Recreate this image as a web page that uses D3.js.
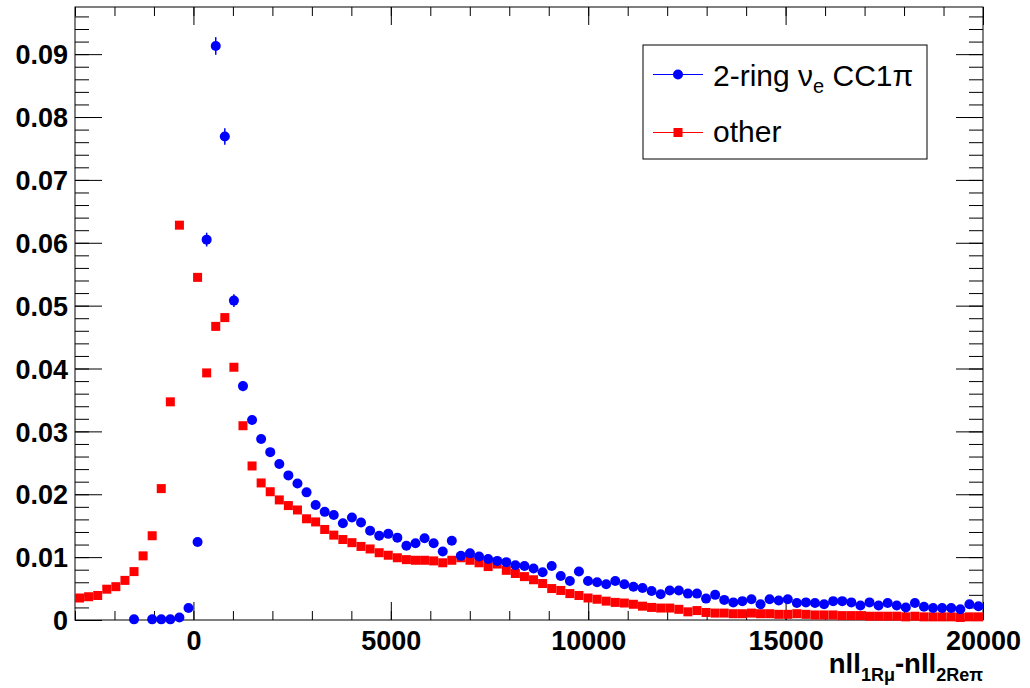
<!DOCTYPE html>
<html><head><meta charset="utf-8">
<script src="https://cdn.jsdelivr.net/npm/d3@7"></script>
<style>
body{margin:0;background:#fff}
svg{display:block}
text{font-family:"Liberation Sans",Arial,Helvetica,sans-serif}
</style>
</head><body>
<svg id="c" width="1030" height="688"></svg>
<script>
// ---- data ----
const binLow = -3000, binWidth = 230;
const xDomain = [-3000, 20000];
const yDomain = [0, 0.0975];

// 2-ring nu_e CC1pi (blue circles); null = bin not drawn
const signal = [
  null,null,null,null,null,null,0.0001,null,0.0001,0.0001,
  0.0001,0.0004,0.0019,0.0124,0.0605,0.0913,0.0769,0.0508,0.0372,0.0318,
  0.0288,0.0267,0.0248,0.0230,0.0217,0.0203,0.0183,0.0172,0.0167,0.0154,
  0.0163,0.0155,0.0142,0.0134,0.0137,0.0131,0.0118,0.0122,0.0130,0.0122,
  0.0109,0.0126,0.0102,0.0106,0.0101,0.0097,0.0094,0.0092,0.0087,0.0086,
  0.0082,0.0076,0.0086,0.0070,0.0062,0.0077,0.0062,0.0060,0.0057,0.0062,
  0.0057,0.0053,0.0051,0.0046,0.0041,0.0047,0.0047,0.0042,0.0042,0.0034,
  0.0040,0.0032,0.0028,0.0030,0.0033,0.0025,0.0033,0.0031,0.0033,0.0027,
  0.0028,0.0027,0.0025,0.0030,0.0030,0.0028,0.0023,0.0028,0.0023,0.0027,
  0.0023,0.0020,0.0027,0.0021,0.0019,0.0019,0.0019,0.0017,0.0025,0.0022
];
// visible vertical error bars (only large bins show them)
const signalErr = [
  0,0,0,0,0,0,0,0,0,0, 0,0,0,0,0.0011,0.0014,0.0013,0.0010,0.0008,0.0007
];
// other (red squares)
const other = [
  0.0035,0.0037,0.0039,0.0049,0.0053,0.0063,0.0077,0.0102,0.0134,0.0209,
  0.0347,0.0628,null,0.0545,0.0393,0.0467,0.0481,0.0402,0.0309,0.0245,
  0.0218,0.0204,0.0191,0.0182,0.0175,0.0161,0.0156,0.0144,0.0135,0.0128,
  0.0123,0.0117,0.0113,0.0107,0.0103,0.0099,0.0096,0.0095,0.0095,0.0094,
  0.0091,0.0095,0.0099,0.0095,0.0091,0.0085,0.0089,0.0079,0.0074,0.0069,
  0.0064,0.0058,0.0050,0.0047,0.0042,0.0039,0.0035,0.0033,0.0030,0.0028,
  0.0027,0.0025,0.0022,0.0020,0.0019,0.0019,0.0017,0.0013,0.0015,0.0012,
  0.0011,0.0011,0.0010,0.0010,0.0011,0.0010,0.0010,0.0009,0.0009,0.0010,
  0.0009,0.0008,0.0008,0.0008,0.0007,0.0007,0.0007,0.0006,0.0006,0.0006,
  0.0006,0.0005,0.0006,0.0005,0.0005,0.0005,0.0005,0.0004,0.0005,0.0005
];
const yTickValues = [0,0.01,0.02,0.03,0.04,0.05,0.06,0.07,0.08,0.09];
const yTickLabels = ["0","0.01","0.02","0.03","0.04","0.05","0.06","0.07","0.08","0.09"];
const xTickValues = [0,5000,10000,15000,20000];
const xTickLabels = ["0","5000","10000","15000","20000"];
const legendLabels = ["2-ring ν", "other"];

// ---- layout ----
const L = 75, R = 983, T = 7, B = 620;
const svg = d3.select("#c");
svg.append("rect").attr("width",1030).attr("height",688).attr("fill","#fff");

const x = d3.scaleLinear().domain(xDomain).range([L, R]);
const y = d3.scaleLinear().domain(yDomain).range([B, T]);
const binCenter = i => binLow + binWidth * (i + 0.5);

svg.append("clipPath").attr("id","clip").append("rect")
  .attr("x",L).attr("y",T-6).attr("width",R-L+6).attr("height",B-T+12);

// minor ticks
const xMinor = d3.range(-3000, 20001, 1000);
const yMinor = d3.range(0, 0.0975, 0.002);
function styleAxis(g){ g.select(".domain").remove(); g.selectAll("line").attr("stroke","#000"); }

svg.append("g").attr("transform",`translate(0,${B})`)
  .call(d3.axisBottom(x).tickValues(xMinor).tickSize(-9).tickFormat("")).call(styleAxis);
svg.append("g").attr("transform",`translate(0,${T})`)
  .call(d3.axisTop(x).tickValues(xMinor).tickSize(-9).tickFormat("")).call(styleAxis);
svg.append("g").attr("transform",`translate(${L},0)`)
  .call(d3.axisLeft(y).tickValues(yMinor).tickSize(-14).tickFormat("")).call(styleAxis);
svg.append("g").attr("transform",`translate(${R},0)`)
  .call(d3.axisRight(y).tickValues(yMinor).tickSize(-14).tickFormat("")).call(styleAxis);

// major ticks
const gx = svg.append("g").attr("transform",`translate(0,${B})`)
  .call(d3.axisBottom(x).tickValues(xTickValues).tickSize(-18).tickPadding(11)
    .tickFormat((d,i)=>xTickLabels[i])).call(styleAxis);
svg.append("g").attr("transform",`translate(0,${T})`)
  .call(d3.axisTop(x).tickValues(xTickValues).tickSize(-18).tickFormat("")).call(styleAxis);
const gy = svg.append("g").attr("transform",`translate(${L},0)`)
  .call(d3.axisLeft(y).tickValues(yTickValues).tickSize(-27).tickPadding(7)
    .tickFormat((d,i)=>yTickLabels[i])).call(styleAxis);
svg.append("g").attr("transform",`translate(${R},0)`)
  .call(d3.axisRight(y).tickValues(yTickValues).tickSize(-27).tickFormat("")).call(styleAxis);

[gx, gy].forEach(g => g.selectAll("text")
  .attr("font-family","Liberation Sans, Arial, sans-serif")
  .attr("font-weight","bold").attr("font-size",27).attr("fill","#000"));
gx.selectAll("text").attr("dy","0.71em");
gy.selectAll("text").attr("dy","0.36em");

// frame
svg.append("rect").attr("x",L).attr("y",T).attr("width",R-L).attr("height",B-T)
  .attr("fill","none").attr("stroke","#000").attr("stroke-width",1);

// data
const plot = svg.append("g").attr("clip-path","url(#clip)");
const redData = other.map((v,i)=>({i,v})).filter(d=>d.v!==null);
plot.selectAll("rect.other").data(redData).enter().append("rect")
  .attr("class","other")
  .attr("x",d=>x(binCenter(d.i))-4.5).attr("y",d=>y(d.v)-4.5)
  .attr("width",9).attr("height",9).attr("fill","#ff0000");

const blueData = signal.map((v,i)=>({i,v,e:signalErr[i]||0})).filter(d=>d.v!==null);
plot.selectAll("line.err").data(blueData.filter(d=>d.e>0)).enter().append("line")
  .attr("x1",d=>x(binCenter(d.i))).attr("x2",d=>x(binCenter(d.i)))
  .attr("y1",d=>y(d.v-d.e)).attr("y2",d=>y(d.v+d.e))
  .attr("stroke","#0000ff").attr("stroke-width",1.5);
plot.selectAll("circle.sig").data(blueData).enter().append("circle")
  .attr("class","sig")
  .attr("cx",d=>x(binCenter(d.i))).attr("cy",d=>y(d.v)).attr("r",5)
  .attr("fill","#0000ff");

// axis title
const title = svg.append("text").attr("x",R).attr("y",673).attr("text-anchor","end")
  .attr("font-weight","bold").attr("font-size",27.5).attr("fill","#000");
title.append("tspan").text("nll");
title.append("tspan").attr("font-size",18).attr("dy",8).text("1Rμ");
title.append("tspan").attr("dy",-8).text("-nll");
title.append("tspan").attr("font-size",18).attr("dy",8).text("2Reπ");

// legend
const lg = svg.append("g");
lg.append("rect").attr("x",643).attr("y",45).attr("width",284).attr("height",114)
  .attr("fill","#fff").attr("stroke","#000").attr("stroke-width",1);
const rows = [{y:74.5,c:"#0000ff",shape:"circle"},{y:132.5,c:"#ff0000",shape:"square"}];
rows.forEach((r,k)=>{
  lg.append("line").attr("x1",653).attr("x2",703).attr("y1",r.y).attr("y2",r.y)
    .attr("stroke",r.c).attr("stroke-width",1);
  if(r.shape==="circle") lg.append("circle").attr("cx",678).attr("cy",r.y).attr("r",5).attr("fill",r.c);
  else lg.append("rect").attr("x",673.5).attr("y",r.y-4.5).attr("width",9).attr("height",9).attr("fill",r.c);
});
const t1 = lg.append("text").attr("x",713).attr("y",85.5).attr("font-size",30).attr("fill","#000");
t1.append("tspan").text(legendLabels[0]);
t1.append("tspan").attr("font-size",20).attr("dy",7).text("e");
t1.append("tspan").attr("dy",-7).text(" CC1π");
lg.append("text").attr("x",713).attr("y",142).attr("font-size",30).attr("fill","#000").text(legendLabels[1]);
</script>
</body></html>
